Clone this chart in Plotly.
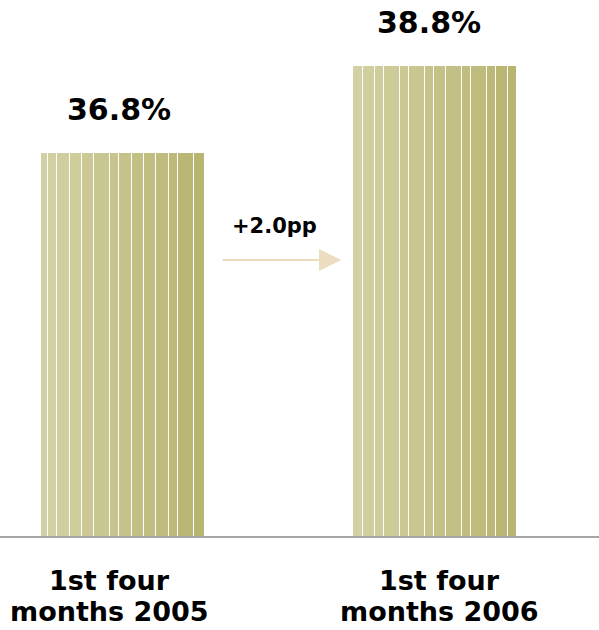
import plotly.graph_objects as go

# ---- data ----
categories = ["1st four<br>months 2005", "1st four<br>months 2006"]
values = [36.8, 38.8]
value_labels = ["36.8%", "38.8%"]
change_label = "+2.0pp"

# ---- style: stripe layout inside each bar (pixel widths of each stripe, incl. gap) ----
stripe_px = [
    [7, 9, 13, 12, 12, 16, 9, 13, 12, 12, 13, 9, 16, 11],
    [10, 12, 9, 16, 9, 16, 9, 12, 16, 9, 16, 9, 12, 9],
]
BAR_W = 0.5256          # bar width in category units
PX = BAR_W / 164.0      # one pixel in category units
GAP = 1.3 * PX
C_LEFT = (212, 210, 165)
C_RIGHT = (183, 180, 111)

def mix(t):
    return "rgb(%d,%d,%d)" % tuple(round(a + (b - a) * t) for a, b in zip(C_LEFT, C_RIGHT))

fig = go.Figure()
for i, (cat, v) in enumerate(zip(categories, values)):
    xs, ws, cols = [], [], []
    pos = 0
    for w in stripe_px[i]:
        left = i - BAR_W / 2 + pos * PX
        width = w * PX - GAP
        xs.append(left + width / 2)
        ws.append(width)
        cols.append(mix((pos + w / 2) / 164.0))
        pos += w
    fig.add_trace(go.Bar(
        x=xs, y=[v] * len(xs), width=ws,
        marker=dict(color=cols, line=dict(width=0)),
        name=cat.replace("<br>", " "),
        hovertemplate=cat.replace("<br>", " ") + ": %{y:.1f}%<extra></extra>",
        showlegend=False,
    ))

FONT = "DejaVu Sans, Verdana, sans-serif"
label_xshift = [-4, -6]
cat_xshift = [-13, 4]
line_yshift = [-62, -93]
ann = []
for i, (v, t) in enumerate(zip(values, value_labels)):
    ann.append(dict(x=i, y=v, xref="x", yref="y", text="<b>%s</b>" % t, showarrow=False,
                    yanchor="bottom", yshift=24, xshift=label_xshift[i],
                    font=dict(family=FONT, size=30, color="black")))
    for k, line in enumerate(categories[i].split("<br>")):
        ann.append(dict(x=i, y=0, xref="x", yref="paper", text="<b>%s</b>" % line, showarrow=False,
                        yanchor="bottom", yshift=line_yshift[k], xshift=cat_xshift[i],
                        font=dict(family=FONT, size=27, color="black")))

# change arrow between bars
ann.append(dict(x=0.487, y=35.14, xref="x", yref="y", text="<b>%s</b>" % change_label, showarrow=False,
                yshift=-1, font=dict(family=FONT, size=21, color="black")))
ann.append(dict(x=0.699, y=34.345, ax=0.314, ay=34.345, xref="x", yref="y", axref="x", ayref="y",
                text="", showarrow=True, arrowhead=2, arrowsize=2.2, arrowwidth=2,
                arrowcolor="rgb(236,220,192)"))

fig.update_layout(
    width=599, height=630,
    margin=dict(l=0, r=0, t=0, b=94),
    paper_bgcolor="white", plot_bgcolor="white",
    barmode="overlay",
    bargap=0,
    annotations=ann,
    xaxis=dict(range=[-0.3942, 1.5256], showgrid=False, zeroline=False, showticklabels=False,
               showline=True, linecolor="#a6a6a6", linewidth=2, fixedrange=True),
    yaxis=dict(range=[28.0, 40.32], showgrid=False, zeroline=False, showticklabels=False,
               showline=False, fixedrange=True),
)

fig.write_html("out.html", config={"displayModeBar": False},
               post_script="document.body.style.margin='0';document.body.style.overflow='hidden';")
